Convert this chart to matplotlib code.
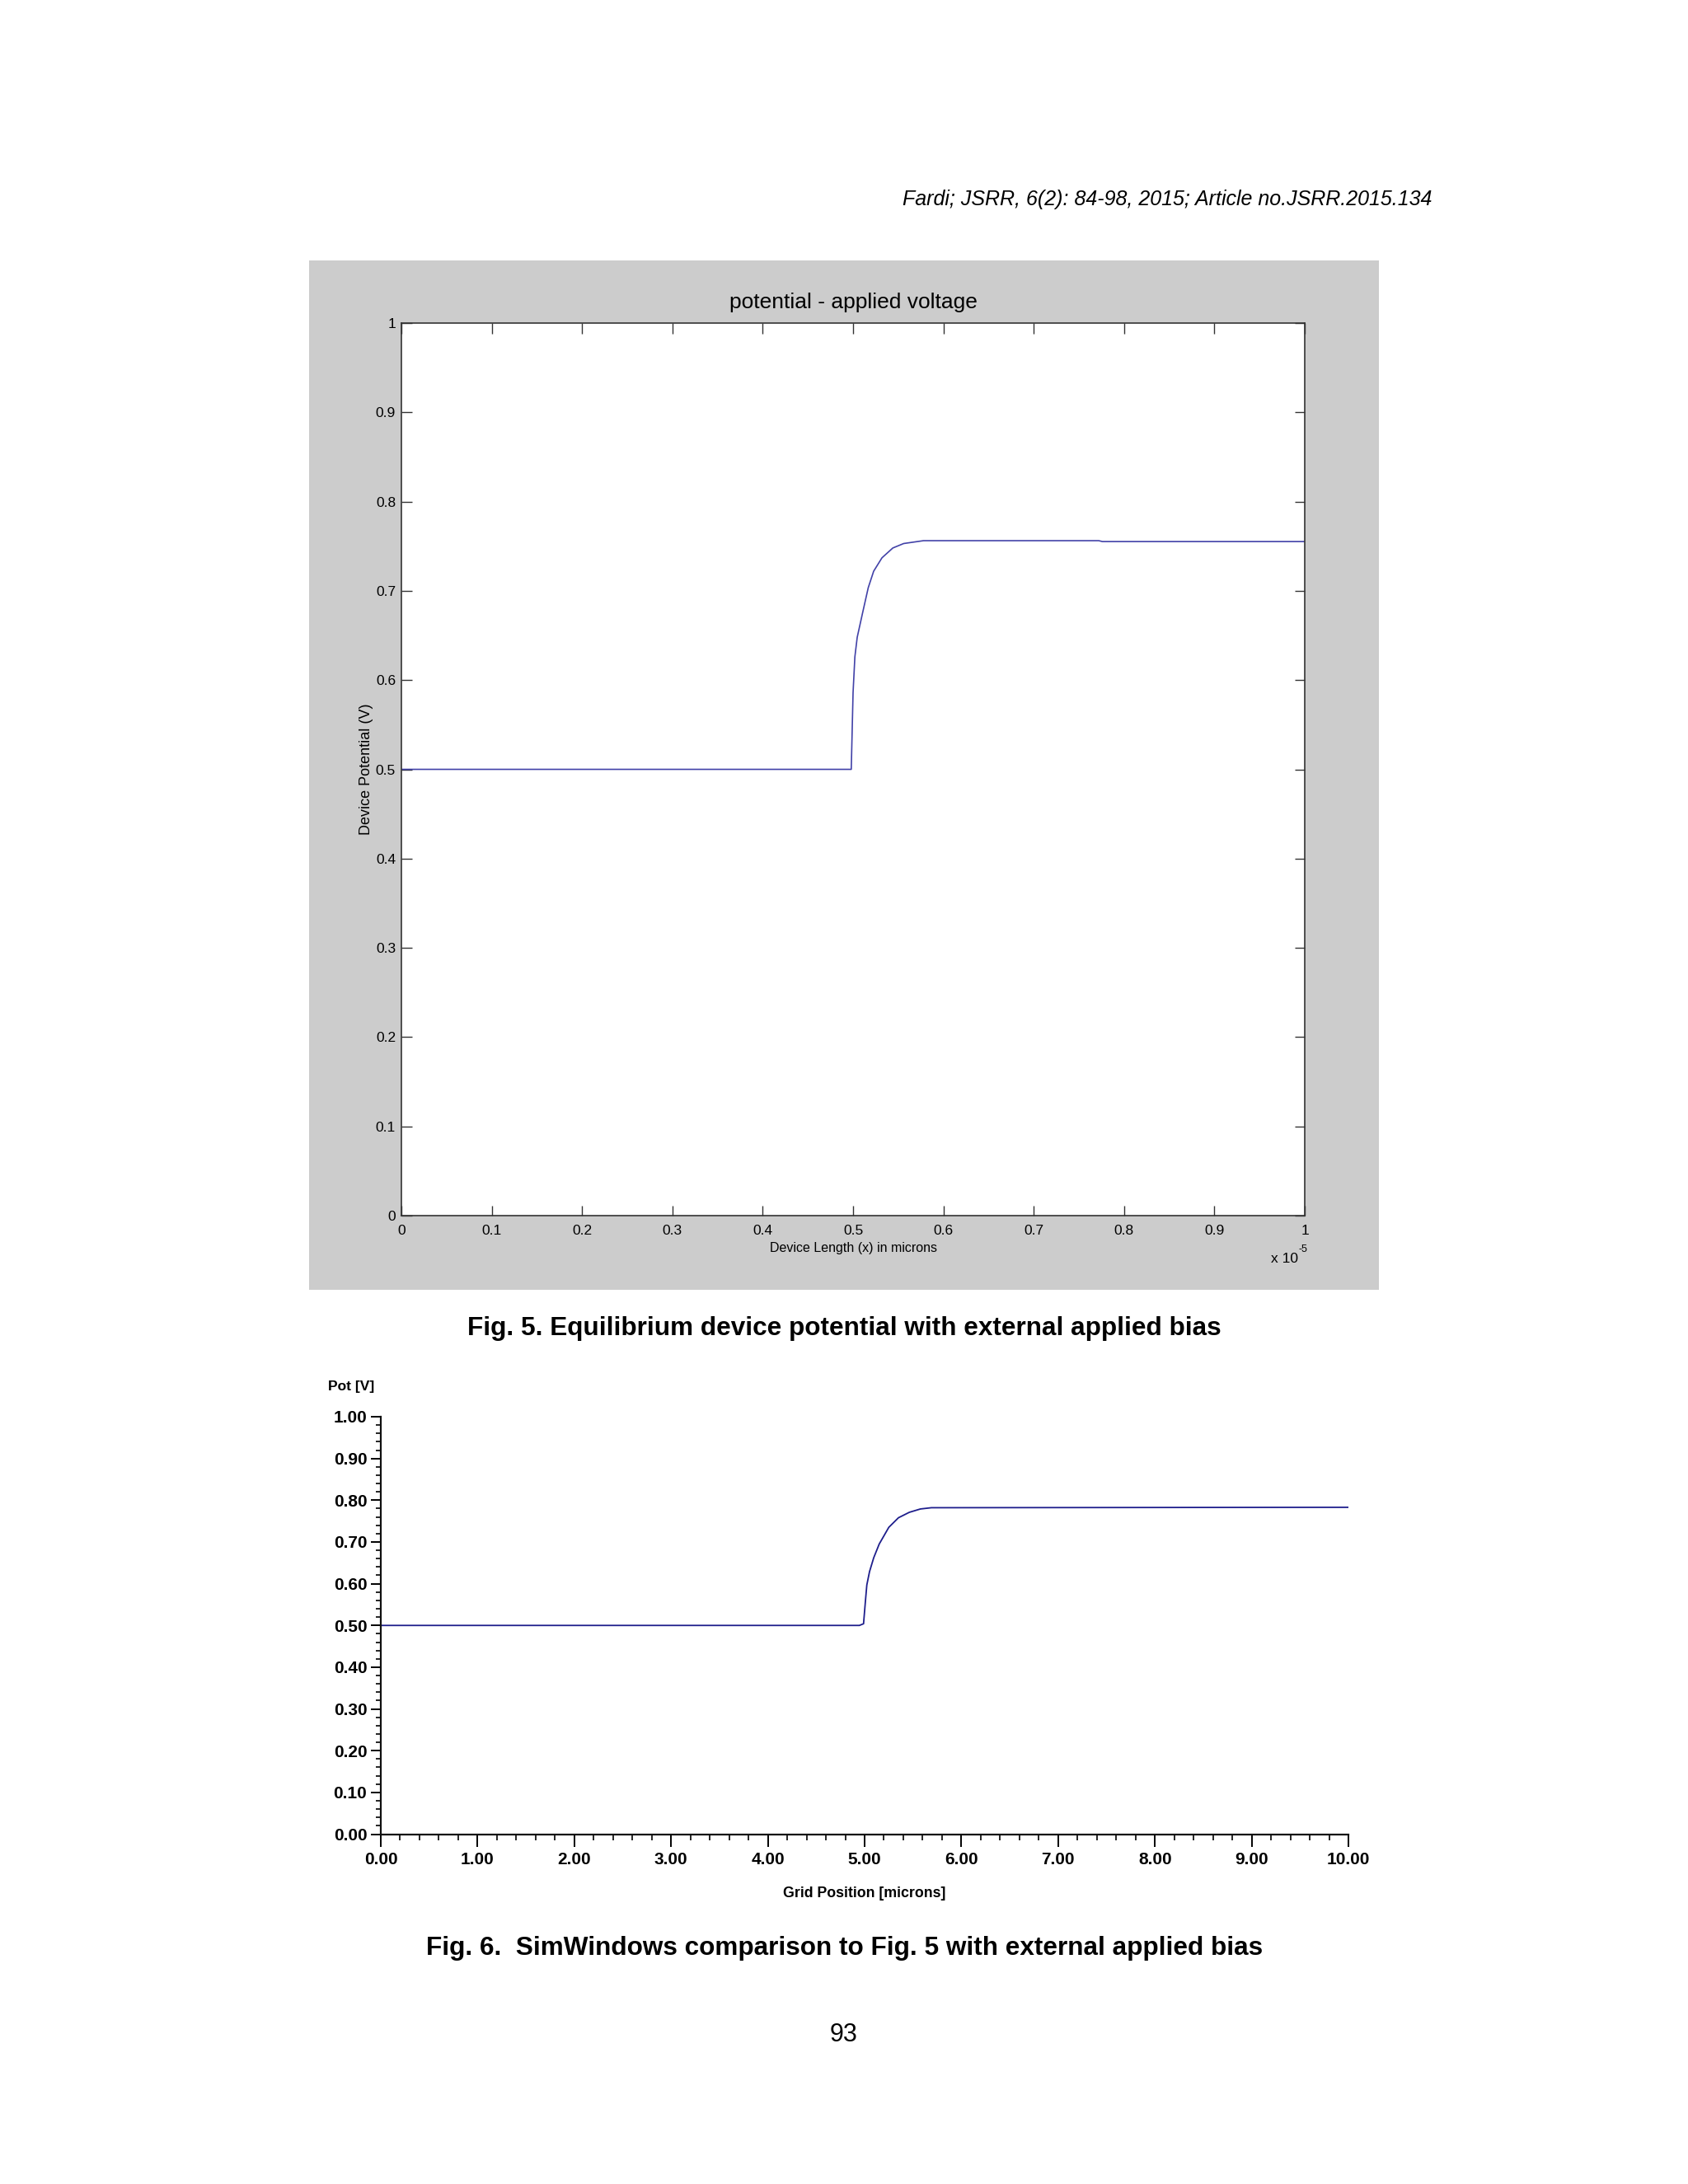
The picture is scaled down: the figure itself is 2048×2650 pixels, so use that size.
"""Page from Fardi (JSRR 2015): device potential with applied bias,
MATLAB result (Fig. 5) next to the SimWindows result (Fig. 6)."""

import matplotlib

matplotlib.use("Agg")
import matplotlib.pyplot as plt
from matplotlib.patches import Rectangle
from matplotlib.ticker import MultipleLocator

# -- data ----------------------------------------------------------------
# Fig. 5: x in units of 1e-5 (as on the MATLAB axis), potential in V
fig5_x = [0.0, 0.498, 0.500, 0.502, 0.5046, 0.5107, 0.5168, 0.5228,
          0.532, 0.544, 0.556, 0.578, 0.772, 0.776, 1.0]
fig5_v = [0.5, 0.5, 0.586, 0.626, 0.648, 0.676, 0.7035, 0.722,
          0.737, 0.748, 0.753, 0.7562, 0.7562, 0.7552, 0.7552]
fig5_ticks = [0, 0.1, 0.2, 0.3, 0.4, 0.5, 0.6, 0.7, 0.8, 0.9, 1]

# Fig. 6: grid position in microns, potential in V
fig6_x = [0.0, 4.946, 4.989, 5.008, 5.023, 5.051, 5.094, 5.151,
          5.25, 5.35, 5.462, 5.577, 5.69, 10.0]
fig6_v = [0.5, 0.5, 0.504, 0.557, 0.597, 0.629, 0.662, 0.695,
          0.735, 0.758, 0.771, 0.779, 0.782, 0.783]
fig6_xticks = [0, 1, 2, 3, 4, 5, 6, 7, 8, 9, 10]
fig6_yticks = [0, 0.1, 0.2, 0.3, 0.4, 0.5, 0.6, 0.7, 0.8, 0.9, 1.0]

header = "Fardi; JSRR, 6(2): 84-98, 2015; Article no.JSRR.2015.134"
caption5 = "Fig. 5. Equilibrium device potential with external applied bias"
caption6 = "Fig. 6.  SimWindows comparison to Fig. 5 with external applied bias"
page_no = "93"

NARROW = ["Liberation Sans Narrow", "Liberation Sans", "DejaVu Sans"]
ARIAL = ["Liberation Sans", "DejaVu Sans"]

W, H = 2048, 2650
fig = plt.figure(figsize=(W / 100, H / 100), dpi=100, facecolor="white")


def fx(px):
    return px / W


def fy(py):
    return 1 - py / H


# -- page text ------------------------------------------------------------
fig.text(fx(1737), fy(242), header, ha="right", va="center",
         fontfamily=ARIAL, fontstyle="italic", fontsize=18)
fig.text(fx(1024), fy(1612), caption5, ha="center", va="center",
         fontfamily=ARIAL, fontweight="bold", fontsize=22.7)
fig.text(fx(1025), fy(2364), caption6, ha="center", va="center",
         fontfamily=ARIAL, fontweight="bold", fontsize=22.7)
fig.text(fx(1024), fy(2469), page_no, ha="center", va="center",
         fontfamily=ARIAL, fontsize=22)

# -- Fig. 5 (MATLAB style) -----------------------------------------------
fig.add_artist(Rectangle((fx(375), fy(1565)), fx(1673 - 375), (1565 - 316) / H,
                         transform=fig.transFigure, facecolor="#cccccc",
                         edgecolor="none", zorder=-1))

ax5 = fig.add_axes([fx(487), fy(1475), fx(1583 - 487), (1475 - 392) / H])
ax5.plot(fig5_x, fig5_v, color="#4242a8", lw=1.2)
ax5.set_xlim(0, 1)
ax5.set_ylim(0, 1)
labels5 = ["%g" % t for t in fig5_ticks]
ax5.set_xticks(fig5_ticks, labels=labels5, fontfamily=NARROW, fontsize=12.5)
ax5.set_yticks(fig5_ticks, labels=labels5, fontfamily=NARROW, fontsize=12.5)
ax5.tick_params(direction="in", length=9, width=1.0, color="#333333",
                top=True, right=True)
ax5.tick_params(axis="x", pad=8)
ax5.tick_params(axis="y", pad=5)
for sp in ax5.spines.values():
    sp.set_color("#333333")
    sp.set_linewidth(1.2)

ax5.set_title("potential - applied voltage", fontfamily=NARROW,
              fontsize=19, pad=13)
ax5.set_xlabel("Device Length (x) in microns", fontfamily=NARROW,
               fontsize=11.5, labelpad=4)
ax5.set_ylabel("Device Potential (V)", fontfamily=NARROW, fontsize=13,
               labelpad=2)
fig.text(fx(1575), fy(1528), "x 10", ha="right", va="center",
         fontfamily=NARROW, fontsize=12.5)
fig.text(fx(1575), fy(1516), "-5", ha="left", va="center",
         fontfamily=NARROW, fontsize=9)

# -- Fig. 6 (SimWindows style) -------------------------------------------
ax6 = fig.add_axes([fx(462), fy(2225.5), fx(1636 - 462), (2225.5 - 1719) / H])
ax6.plot(fig6_x, fig6_v, color="#1e1e8c", lw=1.3)
ax6.set_xlim(0, 10)
ax6.set_ylim(0, 1)
ax6.spines["top"].set_visible(False)
ax6.spines["right"].set_visible(False)
for side in ("left", "bottom"):
    ax6.spines[side].set_linewidth(1.6)
    ax6.spines[side].set_color("#111111")

ax6.set_xticks(fig6_xticks, labels=["%.2f" % t for t in fig6_xticks],
               fontfamily=NARROW, fontweight="bold", fontsize=15)
ax6.set_yticks(fig6_yticks, labels=["%.2f" % t for t in fig6_yticks],
               fontfamily=NARROW, fontweight="bold", fontsize=15)
ax6.xaxis.set_minor_locator(MultipleLocator(0.2))
ax6.yaxis.set_minor_locator(MultipleLocator(0.02))
ax6.tick_params(axis="x", which="major", direction="out", length=10.5,
                width=1.4, pad=5)
ax6.tick_params(axis="x", which="minor", direction="out", length=5, width=1.2)
ax6.tick_params(axis="y", which="major", direction="out", length=9,
                width=1.4, pad=3)
ax6.tick_params(axis="y", which="minor", direction="out", length=4, width=1.2)

fig.text(fx(398), fy(1683), "Pot [V]", ha="left", va="center",
         fontfamily=NARROW, fontweight="bold", fontsize=12.5)
fig.text(fx(1049), fy(2298), "Grid Position [microns]", ha="center",
         va="center", fontfamily=NARROW, fontweight="bold", fontsize=12.8)

fig.savefig("out.png", dpi=100, facecolor="white")
